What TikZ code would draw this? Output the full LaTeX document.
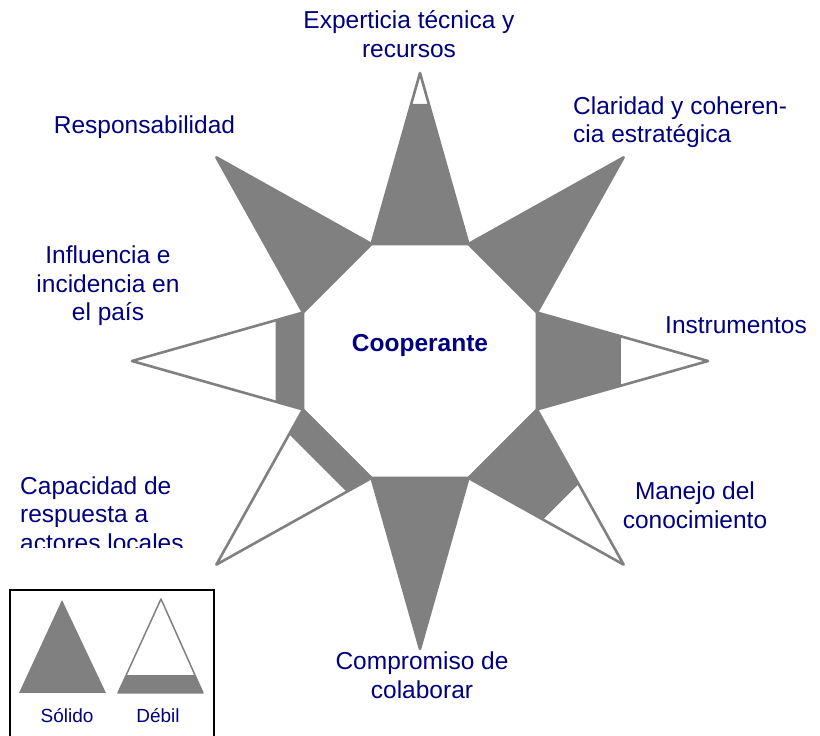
\documentclass[tikz,border=0pt]{standalone}
\usepackage{fontspec}
\setmainfont{Liberation Sans}
\usetikzlibrary{calc}
\definecolor{stargray}{HTML}{808080}
\definecolor{lblblue}{HTML}{000080}
\tikzset{
  rayline/.style={draw=stargray, line width=2.6pt, line join=round},
  rayfill/.style={fill=stargray},
  lbl/.style={text=lblblue, inner sep=0pt, font=\fontsize{24.5}{28.5}\selectfont},
  leglbl/.style={text=lblblue, inner sep=0pt, font=\fontsize{19}{22}\selectfont},
}
\newcommand{\starray}[3]{%
  \coordinate (#1b1) at ($(C)+(#2-22.5:126.6)$);
  \coordinate (#1b2) at ($(C)+(#2+22.5:126.6)$);
  \coordinate (#1a) at ($(C)+(#2:288)$);
  \draw[rayline] (#1b1) -- (#1a) -- (#1b2) -- cycle;
  \fill[rayfill] (#1b1) -- ($(#1b1)!#3!(#1a)$) -- ($(#1b2)!#3!(#1a)$) -- (#1b2) -- cycle;
}
\begin{document}
\begin{tikzpicture}[x=1pt,y=1pt]
\useasboundingbox (0,0) rectangle (820,736);
\coordinate (C) at (420,375);
\starray{up}{90}{0.82}
\starray{ur}{45}{1}
\starray{rt}{0}{0.49}
\starray{dr}{-45}{0.48}
\starray{dn}{-90}{1}
\starray{dl}{-135}{0.16}
\starray{lt}{180}{0.16}
\starray{ul}{135}{1}

\node[lbl, font=\fontsize{24.5}{28.5}\selectfont\bfseries] (coop) at (420,391) {Cooperante};

\node[lbl, align=center] (exp) at (409,702) {Experticia técnica y\\recursos};
\node[lbl, align=left, anchor=west] (cla) at (573,614) {Claridad y coheren-\\cia estratégica};
\node[lbl] (res) at (144.5,609) {Responsabilidad};
\node[lbl, align=center] (inf) at (108,450) {Influencia e\\incidencia en\\el país};
\node[lbl, anchor=west] (ins) at (665,411) {Instrumentos};
\node[lbl, align=center] (man) at (695,231) {Manejo del\\conocimiento};
\node[lbl, align=center] (com) at (422,61) {Compromiso de\\colaborar};
\begin{scope}
  \clip (0,188) rectangle (260,300);
  \node[lbl, align=left, anchor=west] (cap) at (20,222) {Capacidad de\\respuesta a\\actores locales};
\end{scope}

% legend
\draw[black, line width=1.2pt] (10,-2) -- (10,146) -- (214,146) -- (214,-2);
\coordinate (sa) at (62,136);
\coordinate (sb1) at (19,43);
\coordinate (sb2) at (106,43);
\fill[stargray] (sb1) -- (sa) -- (sb2) -- cycle;
\coordinate (da) at (161,137);
\coordinate (db1) at (118,43);
\coordinate (db2) at (203,43);
\draw[draw=stargray, line width=1.5pt, line join=round] (db1) -- (da) -- (db2) -- cycle;
\fill[stargray] (db1) -- ($(db1)!0.19!(da)$) -- ($(db2)!0.19!(da)$) -- (db2) -- cycle;
\node[leglbl] (sol) at (67,20) {Sólido};
\node[leglbl] (deb) at (158,20) {Débil};
\end{tikzpicture}
\end{document}
